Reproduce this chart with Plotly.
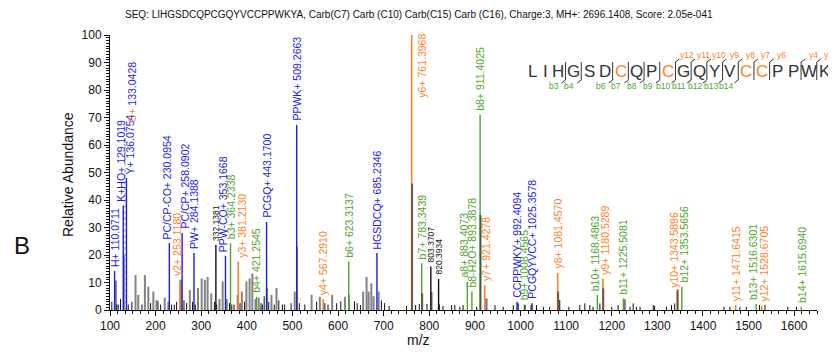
import plotly.graph_objects as go

# ---------------- data ----------------
title_text = ("SEQ: LIHGSDCQPCGQYVCCPPWKYA, Carb(C7) Carb (C10) Carb(C15) Carb (C16), "
              "Charge:3, MH+: 2696.1408, Score: 2.05e-041")
sequence = "LIHGSDCQPCGQYVCCPPWKYA"
carb_positions = [7, 10, 15, 16]
b_marks = [3, 4, 6, 7, 8, 9, 10, 11, 12, 13, 14]
y_marks = [3, 4, 6, 7, 8, 9, 10, 11, 12]

b_labels = ["b3+", "b4+", "b6+", "b7+", "a8+", "b8-H2O+", "b8+", "b9+", "b10+", "b11+", "b12+", "b13+", "b14+"]
b_mz = [364.2338, 421.2545, 623.3137, 783.3439, 883.4073, 893.3878, 911.4025, 1008.4565,
        1168.4863, 1225.5081, 1353.5656, 1516.6301, 1615.6940]
b_int = [24.3, 4.8, 17.6, 17.0, 10.3, 6.7, 71.0, 2.0, 5.5, 4.2, 8.5, 2.2, 1.2]

y_labels = ["y2+", "y3+", "y4+", "y6+", "y7+", "y8+", "y9+", "y10+", "y11+", "y12+"]
y_mz = [253.1180, 381.2130, 567.2910, 761.3968, 921.4278, 1081.4570, 1180.5289,
        1343.5896, 1471.6415, 1528.6705]
y_int = [11.0, 17.6, 4.0, 100.0, 9.0, 13.5, 11.5, 6.7, 1.8, 1.5]

int_labels = ["H+", "K+HO+", "Y+", "PC/CP-CO+", "PC/CP+", "PW+", "PPW-CO+", "PCGQ+",
              "PPWK+", "HGSDCQ+", "CCPPWKY+", "PCGQYVCC+"]
int_mz = [110.0711, 129.1019, 136.0754, 230.0954, 258.0902, 284.1388, 353.1668, 443.1700,
          509.2663, 685.2346, 992.4094, 1025.3578]
int_int = [14.2, 38.0, 48.0, 24.3, 28.0, 20.7, 19.7, 32.0, 67.3, 20.7, 3.0, 2.5]

imm_c_label = "C+"
imm_c_mz = [133.0428]
imm_c_int = [63.0]

other_mz = [332.1381, 803.3707, 820.3934]
other_int = [23.6, 15.8, 11.3]

noise_gray_mz = [113, 130.5, 156, 162, 176.5, 184, 195, 202, 205, 220, 228, 256, 262, 275,
                 293, 301, 308, 314, 322, 340, 347, 356, 380, 389, 399, 406, 412, 419, 426,
                 444, 454, 465, 505, 510, 542, 560, 587, 615, 624, 655, 662.5, 667, 673, 678,
                 689, 762.4, 784.5, 805, 912.4, 925.5, 1082.5, 1181.5, 1344.6]
noise_gray_int = [10.7, 20.0, 12.7, 5.5, 12.7, 8.5, 6.7, 3.6, 3.2, 4.5, 3.0, 11.0, 3.5, 7.3,
                  8.0, 11.5, 11.0, 12.0, 6.0, 4.0, 10.4, 4.0, 5.5, 6.7, 10.4, 11.5, 13.3, 4.0,
                  4.5, 8.0, 5.5, 8.0, 6.7, 23.0, 5.5, 4.8, 5.5, 4.8, 5.5, 6.7, 12.0, 6.7, 9.7,
                  5.0, 6.7, 46.0, 6.0, 6.5, 34.5, 4.2, 6.7, 7.9, 7.5]

noise_black_mz = [104, 115, 118, 123, 140, 148, 170, 189, 211, 235, 241, 246, 268, 281, 287,
                  329, 334, 362, 367, 372, 385, 395, 431, 434, 438, 448, 460, 470, 478, 483,
                  497, 515, 527, 553, 571, 578, 597, 606, 636, 642, 649, 695, 702, 712, 750,
                  770, 778, 795, 822, 830, 849, 856, 867, 874, 904, 944, 962, 984, 995, 1010,
                  1023, 1035, 1050, 1064, 1086, 1106, 1130, 1141, 1152, 1159, 1174, 1200,
                  1214, 1229, 1240, 1247, 1254, 1262, 1291, 1294, 1320, 1331, 1338, 1446,
                  1459, 1481, 1495, 1524, 1536, 1586, 1605]
noise_black_int = [3.0, 2.0, 2.0, 4.0, 2.0, 3.0, 2.0, 2.5, 2.0, 2.0, 2.0, 3.0, 2.5, 3.0, 2.0,
                   3.0, 2.0, 2.5, 2.0, 2.0, 2.5, 3.0, 2.5, 2.0, 5.0, 3.0, 2.0, 3.5, 2.0, 2.0,
                   2.5, 2.5, 2.0, 3.0, 2.5, 2.0, 2.5, 3.2, 3.2, 2.5, 1.8, 3.5, 2.5, 1.5, 1.5,
                   1.8, 2.2, 2.2, 2.0, 1.5, 1.8, 1.8, 1.2, 1.8, 1.2, 1.8, 1.2, 1.8, 2.4, 1.8,
                   1.8, 1.8, 1.2, 1.2, 3.6, 1.2, 1.8, 2.4, 1.8, 1.2, 2.4, 1.2, 1.8, 3.9, 1.2,
                   2.4, 1.2, 1.2, 1.8, 1.5, 1.2, 1.8, 2.4, 1.2, 1.2, 1.2, 1.2, 1.8, 1.8, 1.2,
                   1.2]

# ---------------- style / layout ----------------
BLUE = "#1c1ce6"
ORANGE = "#ff7f27"
GREEN = "#4fa52b"
LFONT = "Liberation Sans, Arial, sans-serif"
AFONT = "Liberation Sans, Arial, sans-serif"
LSIZE = 10.5

# horizontal nudges (px) of a few crowded peak labels
label_xshift = {"H+": 1, "K+HO+": -3, "Y+": 4, "C+": 7, "PC/CP-CO+": -2, "y2+": -3,
                "PC/CP+": 2, "PPW-CO+": -3, "y3+": 3, "a8+": -3, "y7+": 2, "b10+": -2,
                "y9+": 2, "y10+": -4, "b12+": 2, "b13+": -3, "y12+": 2}

# the page body has an 8px margin; screen-pixel plot area of the reference:
BODY = 8
FIG_W, FIG_H = 836 - BODY, 353 - BODY
PX_L, PX_W, PX_T, PX_H = 110, 707, 35, 275
PX_B = PX_T + PX_H


def px2x(px):
    return (px - PX_L) / PX_W


def py2y(py):
    return (PX_B - py) / PX_H


def sticks(mz, inten):
    xs, ys = [], []
    for m, v in zip(mz, inten):
        xs += [m, m, None]
        ys += [0, v, None]
    return xs, ys


fig = go.Figure()


def add_sticks(mz, inten, color, width, dash=None):
    xs, ys = sticks(mz, inten)
    fig.add_trace(go.Scatter(x=xs, y=ys, mode="lines", hoverinfo="skip",
                             line=dict(color=color, width=width, dash=dash), showlegend=False))


add_sticks(noise_gray_mz[:45], noise_gray_int[:45], "rgba(90,90,90,0.75)", 2)
add_sticks(imm_c_mz, imm_c_int, "rgba(150,150,150,0.9)", 1, "dot")
add_sticks(int_mz, int_int, BLUE, 1.4)
add_sticks(y_mz, y_int, ORANGE, 1.6)
add_sticks(b_mz, b_int, GREEN, 1.4)
add_sticks(other_mz, other_int, "#111111", 1.4)
add_sticks(noise_gray_mz[45:], noise_gray_int[45:], "rgba(40,40,40,0.65)", 2)
add_sticks(noise_black_mz, noise_black_int, "#111111", 1)

annotations = []


def peak_label(mz, inten, text, color, key=None, size=LSIZE, **kw):
    d = dict(x=mz, y=inten, text=text, textangle=-90, showarrow=False,
             xanchor="center", yanchor="bottom", yshift=2,
             xshift=label_xshift.get(key, 0),
             font=dict(family=LFONT, size=size, color=color))
    d.update(kw)
    annotations.append(d)


def paper_text(px, py, text, size, color="#111111", angle=0, family=AFONT):
    annotations.append(dict(x=px2x(px), y=py2y(py), xref="paper", yref="paper", text=text,
                            showarrow=False, xanchor="center", yanchor="middle",
                            textangle=angle, font=dict(family=family, size=size, color=color)))


for lab, m, v in zip(b_labels, b_mz, b_int):
    peak_label(m, v, f"{lab} {m:.4f}", GREEN, lab)
for lab, m, v in zip(y_labels, y_mz, y_int):
    if v >= 99:
        peak_label(m, v, f"{lab} {m:.4f}", ORANGE, lab, xanchor="left", yanchor="top",
                   yshift=3, xshift=2)
    else:
        peak_label(m, v, f"{lab} {m:.4f}", ORANGE, lab)
for lab, m, v in zip(int_labels, int_mz, int_int):
    peak_label(m, v, f"{lab} {m:.4f}", BLUE, lab)
peak_label(imm_c_mz[0], imm_c_int[0],
           f"<span style='color:{ORANGE}'>{imm_c_label}</span> {imm_c_mz[0]:.4f}", BLUE,
           imm_c_label, yshift=12)
for m, v in zip(other_mz, other_int):
    peak_label(m, v, f"{m:.4f}", "#111111", size=8.5)

# title, panel letter, axis titles
paper_text(419, 15, title_text, 10)
paper_text(22, 245, "B", 24)
paper_text(68, 175, "Relative Abundance", 14, angle=-90)
paper_text(418, 340, "m/z", 14)

# ---------------- sequence graphic ----------------
shapes = []
n = len(sequence)
gap_has = {}
for k in b_marks:
    gap_has.setdefault(k, set()).add("b")
for k in y_marks:
    gap_has.setdefault(n - k, set()).add("y")

letter_px = [532.7]
for i in range(1, n):
    adv = 12.5 if i < 3 else 15.7
    letter_px.append(letter_px[-1] + adv)

LET_Y = 72
for i, ch in enumerate(sequence):
    col = ORANGE if (i + 1) in carb_positions else "#333333"
    paper_text(letter_px[i], LET_Y, ch, 17, col)

line_style = dict(color="#333333", width=1)
for gap, kinds in gap_has.items():
    xb = (letter_px[gap - 1] + letter_px[gap]) / 2
    shapes.append(dict(type="line", xref="paper", yref="paper", x0=px2x(xb), x1=px2x(xb),
                       y0=py2y(62), y1=py2y(80), line=line_style))
    if "b" in kinds:
        shapes.append(dict(type="line", xref="paper", yref="paper", x0=px2x(xb), x1=px2x(xb - 4),
                           y0=py2y(80), y1=py2y(83), line=line_style))
        paper_text(xb - 12, 86, f"b{gap}", 8.5, GREEN)
    if "y" in kinds:
        shapes.append(dict(type="line", xref="paper", yref="paper", x0=px2x(xb), x1=px2x(xb + 4),
                           y0=py2y(62), y1=py2y(59), line=line_style))
        paper_text(xb + 12, 55, f"y{n - gap}", 8.5, ORANGE)

fig.update_layout(
    width=FIG_W, height=FIG_H,
    margin=dict(l=PX_L - BODY, r=FIG_W - (PX_L - BODY) - PX_W, t=PX_T - BODY,
                b=FIG_H - (PX_T - BODY) - PX_H, pad=0),
    paper_bgcolor="white", plot_bgcolor="white",
    annotations=annotations, shapes=shapes,
    xaxis=dict(range=[100, 1650], tick0=100, dtick=100, ticks="outside", ticklen=5,
               tickcolor="#111", showline=True, linecolor="#111", linewidth=1,
               showgrid=False, zeroline=False,
               tickfont=dict(family=AFONT, size=12, color="#111"),
               minor=dict(dtick=100 / 6, ticks="outside", ticklen=3, tickcolor="#111",
                          showgrid=False)),
    yaxis=dict(range=[0, 100], tick0=0, dtick=10, ticks="outside", ticklen=5,
               tickcolor="#111", showline=True, linecolor="#111", linewidth=1,
               showgrid=False, zeroline=False,
               tickfont=dict(family=AFONT, size=12, color="#111"),
               minor=dict(dtick=1, ticks="outside", ticklen=3, tickcolor="#111",
                          showgrid=False)),
)

fig.write_html("out.html")
